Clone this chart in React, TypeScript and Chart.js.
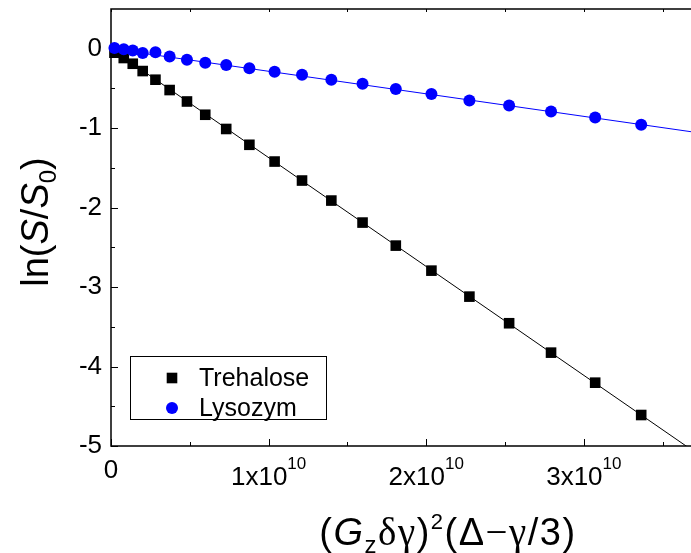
import React, { useEffect, useRef } from "react";
import { Chart, registerables } from "chart.js";

Chart.register(...registerables);

// Diffusion weighting b = (Gz·δ·γ)²(Δ−γ/3) shared by both samples
const bValues = [
  0.022e10, 0.081e10, 0.138e10, 0.201e10, 0.282e10, 0.372e10, 0.482e10,
  0.598e10, 0.731e10, 0.878e10, 1.038e10, 1.212e10, 1.398e10, 1.596e10,
  1.807e10, 2.033e10, 2.274e10, 2.526e10, 2.792e10, 3.072e10, 3.364e10,
];

// ln(S/S0) for each sample
const trehaloseLn = [
  -0.05, -0.117, -0.189, -0.281, -0.39, -0.52, -0.664, -0.831, -1.01, -1.209,
  -1.42, -1.659, -1.911, -2.188, -2.478, -2.793, -3.12, -3.455, -3.825, -4.203,
  -4.61,
];
const lysozymLn = [
  0.009, -0.006, -0.023, -0.054, -0.044, -0.097, -0.139, -0.176, -0.204,
  -0.247, -0.29, -0.327, -0.39, -0.441, -0.508, -0.571, -0.651, -0.714, -0.79,
  -0.865, -0.957,
];

// Linear fits (end points)
const fitX = [0, 3.7e10];
const trehaloseFitY = [0, -5.07];
const lysozymFitY = [0, -1.05];

// Axes
const X_MIN = 0;
const X_MAX = 3.68e10;
const Y_MIN = -5;
const Y_MAX = 0.5;
const xTickValues = [0, 1e10, 2e10, 3e10];
const xMinorValues = [0.5e10, 1.5e10, 2.5e10, 3.5e10];
const yTickValues = [-5, -4, -3, -2, -1, 0];
const yMinorValues = [-4.5, -3.5, -2.5, -1.5, -0.5];

const seriesNames = ["Trehalose", "Lysozym"];
const BLUE = "#0000ff";
const BLACK = "#000000";

const SANS = "'Liberation Sans', Arial, sans-serif";
const SERIF = "'Liberation Serif', 'Times New Roman', serif";

type Seg = { t: string; font: string; dy?: number };

function measureSegs(ctx: CanvasRenderingContext2D, segs: Seg[]) {
  let total = 0;
  const widths = segs.map((s) => {
    ctx.font = s.font;
    const w = ctx.measureText(s.t).width;
    total += w;
    return w;
  });
  return { total, widths };
}

function drawSegs(
  ctx: CanvasRenderingContext2D,
  segs: Seg[],
  cx: number,
  baseline: number
) {
  const { total, widths } = measureSegs(ctx, segs);
  let x = cx - total / 2;
  ctx.textAlign = "left";
  ctx.textBaseline = "alphabetic";
  segs.forEach((s, i) => {
    ctx.font = s.font;
    ctx.fillText(s.t, x, baseline + (s.dy || 0));
    x += widths[i];
  });
}

const framePlugin = {
  id: "frame",
  beforeDatasetsDraw(chart: any) {
    const { ctx, chartArea: a } = chart;
    const xs = chart.scales.x;
    const ys = chart.scales.y;
    ctx.save();
    ctx.strokeStyle = BLACK;
    ctx.lineWidth = 1.5;
    ctx.beginPath();
    ctx.moveTo(a.right, a.top);
    ctx.lineTo(a.left, a.top);
    ctx.lineTo(a.left, a.bottom);
    ctx.lineTo(a.right, a.bottom);
    ctx.stroke();

    ctx.lineWidth = 1;
    ctx.beginPath();
    const xTick = (v: number, len: number, topLen: number) => {
      const px = Math.round(xs.getPixelForValue(v)) + 0.5;
      ctx.moveTo(px, a.bottom);
      ctx.lineTo(px, a.bottom - len);
      ctx.moveTo(px, a.top);
      ctx.lineTo(px, a.top + topLen);
    };
    xTickValues.forEach((v) => xTick(v, 7, 3));
    xMinorValues.forEach((v) => xTick(v, 4, 3));
    const yTick = (v: number, len: number) => {
      const py = Math.round(ys.getPixelForValue(v)) + 0.5;
      ctx.moveTo(a.left, py);
      ctx.lineTo(a.left + len, py);
    };
    yTickValues.forEach((v) => yTick(v, 7));
    yMinorValues.forEach((v) => yTick(v, 4));
    ctx.stroke();
    ctx.restore();
  },
  afterDraw(chart: any) {
    const { ctx } = chart;
    const xs = chart.scales.x;
    ctx.save();
    ctx.fillStyle = BLACK;

    // x tick labels with power-of-ten notation
    xTickValues.forEach((v) => {
      const px = xs.getPixelForValue(v);
      if (v === 0) {
        drawSegs(ctx, [{ t: "0", font: `26px ${SANS}` }], px, 478);
      } else {
        const m = Math.round(v / 1e10);
        drawSegs(
          ctx,
          [
            { t: `${m}x10`, font: `26px ${SANS}` },
            { t: "10", font: `17px ${SANS}`, dy: -16 },
          ],
          px,
          485
        );
      }
    });

    // x axis title
    ctx.save();
    (ctx as any).letterSpacing = "1.5px";
    drawSegs(
      ctx,
      [
        { t: "(", font: `38px ${SANS}` },
        { t: "G", font: `italic 38px ${SANS}` },
        { t: "z", font: `24px ${SANS}`, dy: 8 },
        { t: "δγ", font: `39px ${SERIF}` },
        { t: ")", font: `38px ${SANS}` },
        { t: "2", font: `22px ${SANS}`, dy: -16 },
        { t: "(Δ", font: `38px ${SANS}` },
        { t: "−γ", font: `39px ${SERIF}` },
        { t: "/3)", font: `38px ${SANS}` },
      ],
      448,
      545
    );
    ctx.restore();

    // y axis title, rotated
    ctx.save();
    ctx.translate(48, 222);
    ctx.rotate(-Math.PI / 2);
    drawSegs(
      ctx,
      [
        { t: "ln(", font: `38px ${SANS}` },
        { t: "S", font: `italic 38px ${SANS}` },
        { t: "/", font: `38px ${SANS}` },
        { t: "S", font: `italic 38px ${SANS}` },
        { t: "0", font: `24px ${SANS}`, dy: 8 },
        { t: ")", font: `38px ${SANS}` },
      ],
      0,
      0
    );
    ctx.restore();

    // legend
    ctx.strokeStyle = BLACK;
    ctx.lineWidth = 1;
    ctx.strokeRect(130.5, 356.5, 196, 63);
    const side = 10.6;
    ctx.fillStyle = BLACK;
    ctx.fillRect(172 - side / 2, 378 - side / 2, side, side);
    ctx.fillStyle = BLUE;
    ctx.beginPath();
    ctx.arc(172, 408, 6, 0, Math.PI * 2);
    ctx.fill();
    ctx.fillStyle = BLACK;
    ctx.font = `25px ${SANS}`;
    ctx.textAlign = "left";
    ctx.textBaseline = "middle";
    ctx.fillText(seriesNames[0], 199, 379);
    ctx.fillText(seriesNames[1], 199, 409);
    ctx.restore();
  },
};

export default function App() {
  const ref = useRef<HTMLCanvasElement | null>(null);

  useEffect(() => {
    if (!ref.current) return;
    const chart = new Chart(ref.current, {
      type: "scatter",
      data: {
        datasets: [
          {
            label: seriesNames[1],
            data: bValues.map((x, i) => ({ x, y: lysozymLn[i] })),
            pointStyle: "circle",
            pointRadius: 6,
            backgroundColor: BLUE,
            borderWidth: 0,
            clip: false,
            order: 0,
          },
          {
            label: seriesNames[0],
            data: bValues.map((x, i) => ({ x, y: trehaloseLn[i] })),
            pointStyle: "rect",
            pointRadius: 7.5,
            backgroundColor: BLACK,
            borderWidth: 0,
            clip: false,
            order: 1,
          },
          {
            label: "Lysozym fit",
            data: fitX.map((x, i) => ({ x, y: lysozymFitY[i] })),
            showLine: true,
            borderColor: BLUE,
            borderWidth: 1,
            pointRadius: 0,
            clip: 0,
            order: 2,
          },
          {
            label: "Trehalose fit",
            data: fitX.map((x, i) => ({ x, y: trehaloseFitY[i] })),
            showLine: true,
            borderColor: BLACK,
            borderWidth: 1,
            pointRadius: 0,
            clip: 0,
            order: 3,
          },
        ] as any,
      },
      options: {
        responsive: false,
        animation: false,
        devicePixelRatio: 1,
        layout: { autoPadding: false, padding: { top: 9, right: 0, left: 0, bottom: 0 } },
        plugins: {
          legend: { display: false },
          tooltip: { enabled: false },
        },
        scales: {
          x: {
            type: "linear",
            min: X_MIN,
            max: X_MAX,
            grid: { display: false, drawTicks: false },
            border: { display: false },
            ticks: { display: false },
            afterBuildTicks: (s: any) => {
              s.ticks = xTickValues.map((value) => ({ value }));
            },
            afterFit: (s: any) => {
              s.height = 107;
              s.paddingLeft = 0;
              s.paddingRight = 0;
            },
          },
          y: {
            type: "linear",
            min: Y_MIN,
            max: Y_MAX,
            grid: { display: false, drawTicks: false },
            border: { display: false },
            ticks: {
              color: BLACK,
              padding: 9,
              font: { family: SANS, size: 26 },
              callback: (v: any) => String(v),
            },
            afterBuildTicks: (s: any) => {
              s.ticks = yTickValues.map((value) => ({ value }));
            },
            afterFit: (s: any) => {
              s.width = 111;
              s.paddingTop = 0;
              s.paddingBottom = 0;
            },
          },
        },
      } as any,
      plugins: [framePlugin],
    });
    return () => chart.destroy();
  }, []);

  return (
    <div style={{ position: "absolute", left: 0, top: 0, width: 691, height: 553 }}>
      <canvas ref={ref} width={691} height={553} style={{ display: "block" }} />
    </div>
  );
}
